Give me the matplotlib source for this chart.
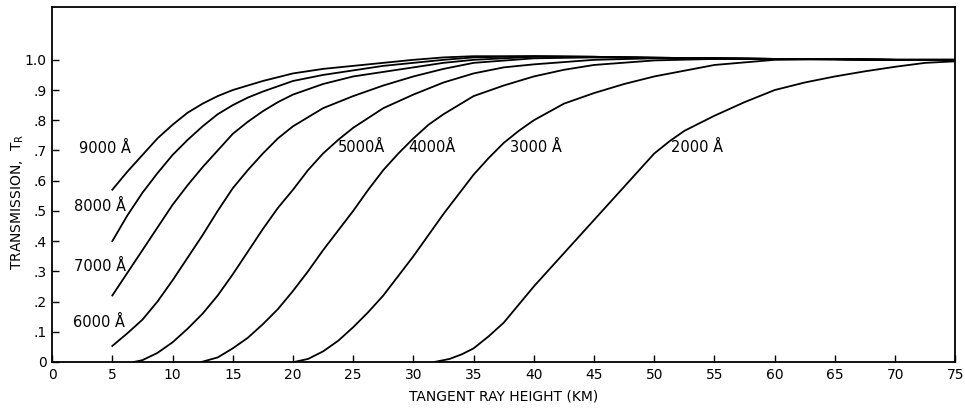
import matplotlib
matplotlib.use("Agg")
import matplotlib.pyplot as plt

# tangent ray height (km) and transmission for each wavelength
x_9000 = [5, 6.25, 7.5, 8.75, 10, 11.25, 12.5, 13.75, 15, 17.5, 20, 22.5, 25, 27.5, 30, 32.5, 35, 40, 45, 50, 55, 60, 65, 70, 75]
t_9000 = [0.57, 0.63, 0.685, 0.74, 0.785, 0.825, 0.855, 0.88, 0.90, 0.93, 0.955, 0.97, 0.98, 0.99, 1.0, 1.008, 1.012,
          1.012, 1.01, 1.007, 1.005, 1.003, 1.002, 1.0, 1.0]

x_8000 = [5, 6.25, 7.5, 8.75, 10, 11.25, 12.5, 13.75, 15, 16.25, 17.5, 20, 22.5, 25, 27.5, 30, 32.5, 35, 40, 45, 50, 55, 60, 65, 70, 75]
t_8000 = [0.40, 0.485, 0.56, 0.625, 0.685, 0.735, 0.78, 0.82, 0.85, 0.875, 0.895, 0.93, 0.95, 0.965, 0.98, 0.99, 1.0,
          1.008, 1.012, 1.01, 1.007, 1.005, 1.003, 1.002, 1.0, 1.0]

x_7000 = [5, 6.25, 7.5, 8.75, 10, 11.25, 12.5, 13.75, 15, 16.25, 17.5, 18.75, 20, 22.5, 25, 27.5, 30, 32.5, 35, 40, 45, 50, 55, 60, 65, 70, 75]
t_7000 = [0.22, 0.295, 0.37, 0.445, 0.52, 0.585, 0.645, 0.70, 0.755, 0.795, 0.83, 0.86, 0.885, 0.92, 0.945, 0.96, 0.975,
          0.99, 1.0, 1.01, 1.01, 1.007, 1.005, 1.003, 1.002, 1.0, 1.0]

x_6000 = [5, 6.25, 7.5, 8.75, 10, 11.25, 12.5, 13.75, 15, 16.25, 17.5, 18.75, 20, 21.25, 22.5, 25, 27.5, 30, 32.5, 35, 40, 45, 50, 55, 60, 65, 70, 75]
t_6000 = [0.053, 0.095, 0.14, 0.20, 0.27, 0.345, 0.42, 0.50, 0.575, 0.635, 0.69, 0.74, 0.78, 0.81, 0.84, 0.88, 0.915,
          0.945, 0.97, 0.99, 1.005, 1.008, 1.006, 1.005, 1.003, 1.002, 1.0, 1.0]

x_5000 = [6.8, 7.5, 8.75, 10, 11.25, 12.5, 13.75, 15, 16.25, 17.5, 18.75, 20, 21.25, 22.5, 23.75, 25, 27.5, 30, 32.5, 35, 37.5, 40, 45, 50, 55, 60, 65, 70, 75]
t_5000 = [0.0, 0.006, 0.03, 0.065, 0.11, 0.16, 0.22, 0.29, 0.365, 0.44, 0.51, 0.57, 0.635, 0.69, 0.735, 0.775, 0.84,
          0.885, 0.925, 0.955, 0.975, 0.985, 1.0, 1.005, 1.004, 1.003, 1.002, 1.0, 1.0]

x_4000 = [12.4, 13.75, 15, 16.25, 17.5, 18.75, 20, 21.25, 22.5, 23.75, 25, 26.25, 27.5, 28.75, 30, 31.25, 32.5, 35, 37.5, 40, 42.5, 45, 50, 55, 60, 65, 70, 75]
t_4000 = [0.0, 0.015, 0.045, 0.08, 0.125, 0.175, 0.235, 0.30, 0.37, 0.435, 0.50, 0.57, 0.635, 0.69, 0.74, 0.785, 0.82,
          0.88, 0.915, 0.945, 0.967, 0.983, 0.998, 1.003, 1.003, 1.002, 1.0, 1.0]

x_3000 = [20.1, 21.25, 22.5, 23.75, 25, 26.25, 27.5, 28.75, 30, 31.25, 32.5, 33.75, 35, 36.25, 37.5, 38.75, 40, 42.5, 45, 47.5, 50, 55, 60, 65, 70, 75]
t_3000 = [0.0, 0.01, 0.035, 0.07, 0.115, 0.165, 0.22, 0.285, 0.35, 0.42, 0.49, 0.555, 0.62, 0.675, 0.725, 0.765, 0.80,
          0.855, 0.89, 0.92, 0.945, 0.983, 1.0, 1.002, 1.0, 1.0]

x_2000 = [31.75, 33, 34, 35, 36.25, 37.5, 38.75, 40, 42.5, 45, 47.5, 50, 51.25, 52.5, 53.75, 55, 57.5, 60, 62.5, 65, 67.5, 70, 72.5, 75]
t_2000 = [0.0, 0.01, 0.025, 0.045, 0.085, 0.13, 0.19, 0.25, 0.36, 0.47, 0.58, 0.69, 0.73, 0.765, 0.79, 0.815, 0.86,
          0.90, 0.925, 0.945, 0.962, 0.977, 0.99, 0.995]

curve_names = ["9000 Å", "8000 Å", "7000 Å", "6000 Å", "5000Å", "4000Å", "3000 Å", "2000 Å"]
curve_x = [x_9000, x_8000, x_7000, x_6000, x_5000, x_4000, x_3000, x_2000]
curve_t = [t_9000, t_8000, t_7000, t_6000, t_5000, t_4000, t_3000, t_2000]

x_ticks = list(range(0, 80, 5))
y_ticks = [0, 0.1, 0.2, 0.3, 0.4, 0.5, 0.6, 0.7, 0.8, 0.9, 1.0]
y_tick_labels = ["0", ".1", ".2", ".3", ".4", ".5", ".6", ".7", ".8", ".9", "1.0"]

# where each wavelength label sits (data coords, left edge / vertical centre)
label_pos = [(2.2, 0.705), (1.8, 0.513), (1.8, 0.315), (1.7, 0.13),
             (23.7, 0.71), (29.6, 0.71), (38.0, 0.71), (51.4, 0.71)]

plt.rcParams['font.family'] = ['DejaVu Sans']

fig = plt.figure(figsize=(9.65, 4.09), dpi=100)
ax = fig.add_axes([0.054, 0.115, 0.936, 0.868])

for xs, ts in zip(curve_x, curve_t):
    ax.plot(xs, ts, color="black", lw=1.3, solid_joinstyle="round")

for name, (lx, ly) in zip(curve_names, label_pos):
    ax.text(lx, ly, name, fontsize=10.5, ha="left", va="center", color="black")

ax.set_xlim(0, 75)
ax.set_ylim(0, 1.175)
ax.set_xticks(x_ticks)
ax.set_yticks(y_ticks)
ax.set_yticklabels(y_tick_labels)
ax.tick_params(direction="in", length=5, width=1, labelsize=10, pad=4)

for sp in ax.spines.values():
    sp.set_linewidth(1.3)

ax.set_xlabel("TANGENT RAY HEIGHT (KM)", fontsize=10, labelpad=6)
ax.set_ylabel("TRANSMISSION,  $\\mathregular{T_R}$", fontsize=10)
ax.yaxis.set_label_coords(-0.029, 0.45)

fig.savefig("out.png", dpi=100)
